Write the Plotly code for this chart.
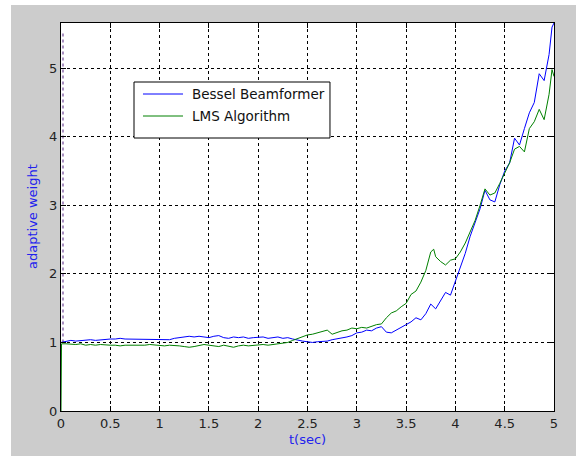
import plotly.graph_objects as go

# ---- data ----
t_bessel = [0.00, 0.05, 0.10, 0.15, 0.20, 0.25, 0.30, 0.35, 0.40, 0.45, 0.50, 0.55, 0.60, 0.65, 0.70,
            0.75, 0.80, 0.85, 0.90, 0.95, 1.00, 1.05, 1.10, 1.15, 1.20, 1.25, 1.30, 1.35, 1.40, 1.45,
            1.50, 1.55, 1.60, 1.65, 1.70, 1.75, 1.80, 1.85, 1.90, 1.95, 2.00, 2.05, 2.10, 2.15, 2.20,
            2.25, 2.30, 2.35, 2.40, 2.45, 2.50, 2.55, 2.60, 2.65, 2.70, 2.75, 2.80, 2.85, 2.90, 2.95,
            3.00, 3.05, 3.10, 3.15, 3.20, 3.25, 3.30, 3.35, 3.40, 3.45, 3.50, 3.55, 3.60, 3.65, 3.70,
            3.75, 3.80, 3.85, 3.90, 3.95, 4.00, 4.05, 4.10, 4.15, 4.20, 4.25, 4.30, 4.35, 4.40, 4.45,
            4.50, 4.55, 4.60, 4.65, 4.70, 4.75, 4.80, 4.85, 4.90, 4.95, 4.98, 5.00]
w_bessel = [1.00, 1.02, 1.03, 1.02, 1.03, 1.03, 1.04, 1.03, 1.04, 1.04, 1.05, 1.05, 1.06, 1.05, 1.05,
            1.04, 1.04, 1.05, 1.04, 1.04, 1.05, 1.05, 1.04, 1.06, 1.07, 1.08, 1.09, 1.08, 1.09, 1.08,
            1.07, 1.09, 1.10, 1.07, 1.06, 1.08, 1.07, 1.08, 1.06, 1.07, 1.07, 1.08, 1.06, 1.07, 1.08,
            1.06, 1.07, 1.05, 1.03, 1.02, 1.01, 1.00, 1.01, 1.01, 1.02, 1.04, 1.05, 1.06, 1.08, 1.10,
            1.14, 1.15, 1.18, 1.17, 1.21, 1.23, 1.15, 1.14, 1.18, 1.22, 1.27, 1.30, 1.36, 1.33, 1.42,
            1.56, 1.49, 1.62, 1.73, 1.69, 1.90, 2.10, 2.30, 2.55, 2.75, 2.95, 3.22, 3.08, 3.05, 3.30,
            3.50, 3.62, 3.98, 3.88, 4.12, 4.35, 4.50, 4.92, 4.82, 5.20, 5.60, 5.66]

t_lms = [0.00, 0.005, 0.05, 0.10, 0.15, 0.20, 0.25, 0.30, 0.35, 0.40, 0.45, 0.50, 0.55, 0.60, 0.65,
         0.70, 0.75, 0.80, 0.85, 0.90, 0.95, 1.00, 1.05, 1.10, 1.15, 1.20, 1.25, 1.30, 1.35, 1.40,
         1.45, 1.50, 1.55, 1.60, 1.65, 1.70, 1.75, 1.80, 1.85, 1.90, 1.95, 2.00, 2.05, 2.10, 2.15,
         2.20, 2.25, 2.30, 2.35, 2.40, 2.45, 2.50, 2.55, 2.60, 2.65, 2.70, 2.75, 2.80, 2.85, 2.90,
         2.95, 3.00, 3.05, 3.10, 3.15, 3.20, 3.25, 3.30, 3.35, 3.40, 3.45, 3.50, 3.55, 3.60, 3.65,
         3.70, 3.75, 3.78, 3.80, 3.85, 3.90, 3.95, 4.00, 4.05, 4.10, 4.15, 4.20, 4.25, 4.30, 4.35,
         4.40, 4.45, 4.50, 4.55, 4.60, 4.65, 4.70, 4.75, 4.80, 4.85, 4.90, 4.95, 4.98, 5.00]
w_lms = [0.00, 0.98, 0.98, 0.97, 0.97, 0.98, 0.96, 0.97, 0.96, 0.97, 0.96, 0.96, 0.96, 0.95, 0.96,
         0.96, 0.95, 0.96, 0.96, 0.97, 0.96, 0.96, 0.95, 0.96, 0.96, 0.95, 0.94, 0.93, 0.94, 0.96,
         0.97, 0.96, 0.95, 0.94, 0.96, 0.95, 0.93, 0.95, 0.96, 0.95, 0.96, 0.96, 0.97, 0.96, 0.97,
         0.97, 0.98, 1.00, 1.03, 1.06, 1.09, 1.11, 1.12, 1.14, 1.16, 1.18, 1.12, 1.15, 1.17, 1.18,
         1.21, 1.20, 1.22, 1.21, 1.24, 1.26, 1.27, 1.36, 1.43, 1.46, 1.52, 1.57, 1.70, 1.75, 1.88,
         2.05, 2.32, 2.36, 2.25, 2.18, 2.13, 2.20, 2.22, 2.32, 2.45, 2.62, 2.78, 3.00, 3.24, 3.15,
         3.18, 3.32, 3.48, 3.62, 3.82, 3.86, 3.78, 4.12, 4.22, 4.40, 4.25, 4.62, 4.98, 4.88]

# multicolour initial-transient strip near t = 0
t_strip = [0.02, 0.02]
w_strip = [1.0, 5.51]

x_ticks = [0, 0.5, 1, 1.5, 2, 2.5, 3, 3.5, 4, 4.5, 5]
x_ticklabels = ["0", "0.5", "1", "1.5", "2", "2.5", "3", "3.5", "4", "4.5", "5"]
y_ticks = [0, 1, 2, 3, 4, 5]
y_ticklabels = ["0", "1", "2", "3", "4", "5"]
x_range = [0, 5]
y_range = [0, 5.66]
x_title = "t(sec)"
y_title = "adaptive weight"
series_names = ["Bessel Beamformer", "LMS Algorithm"]
series_colors = ["#0000ff", "#008000"]

FONT = "DejaVu Sans, Verdana, sans-serif"

fig = go.Figure()
fig.add_trace(go.Scatter(x=t_strip, y=w_strip, mode="lines", showlegend=False,
                         line=dict(color="#a88fc0", width=2, dash="dot"), hoverinfo="skip"))
fig.add_trace(go.Scatter(x=t_bessel, y=w_bessel, mode="lines", name=series_names[0],
                         showlegend=False, line=dict(color=series_colors[0], width=1)))
fig.add_trace(go.Scatter(x=t_lms, y=w_lms, mode="lines", name=series_names[1],
                         showlegend=False, line=dict(color=series_colors[1], width=1)))

axis_common = dict(showline=True, linecolor="black", linewidth=1, mirror="ticks",
                   ticks="inside", ticklen=5, tickcolor="black", automargin=False,
                   showgrid=True, gridcolor="black", gridwidth=1, griddash="3px,3px",
                   zeroline=False, tickfont=dict(family=FONT, size=13, color="#222222"))

fig.update_xaxes(range=x_range, tickvals=x_ticks, ticktext=x_ticklabels, **axis_common)
fig.update_yaxes(range=y_range, tickvals=y_ticks, ticktext=y_ticklabels, **axis_common)

fig.add_annotation(text=y_title, xref="paper", yref="paper", x=-0.0588, y=0.5,
                   xanchor="center", yanchor="middle", textangle=-90, showarrow=False,
                   font=dict(family=FONT, size=13, color="#2222ee"))
fig.add_annotation(text=x_title, xref="paper", yref="paper", x=0.5, y=-0.0747,
                   xanchor="center", yanchor="middle", showarrow=False,
                   font=dict(family=FONT, size=13, color="#2222ee"))

# legend box drawn by hand (MATLAB style)
fig.add_shape(type="rect", xref="paper", yref="paper", x0=0.1481, x1=0.5456, y0=0.7036, y1=0.8479,
              fillcolor="white", line=dict(color="black", width=1), layer="above")
legend_rows_y = [0.8170, 0.7603]
for name, col, yy in zip(series_names, series_colors, legend_rows_y):
    fig.add_shape(type="line", xref="paper", yref="paper", x0=0.1663, x1=0.2475, y0=yy, y1=yy,
                  line=dict(color=col, width=1), layer="above")
    fig.add_annotation(text=name, xref="paper", yref="paper", x=0.2617, y=yy,
                       xanchor="left", yanchor="middle", showarrow=False,
                       font=dict(family=FONT, size=13.5, color="#111111"))

# white strips at top and left of the image (figure window edge)
fig.add_shape(type="rect", xref="paper", yref="paper", x0=-0.13, x1=1.06, y0=1.0464, y1=1.07,
              fillcolor="white", line=dict(width=0), layer="above")
fig.add_shape(type="rect", xref="paper", yref="paper", x0=-0.13, x1=-0.1014, y0=-0.13, y1=1.07,
              fillcolor="white", line=dict(width=0), layer="above")

fig.update_layout(
    width=576, height=456,
    margin=dict(l=61, r=22, t=23, b=45, autoexpand=False),
    paper_bgcolor="#cccccc", plot_bgcolor="white",
    font=dict(family=FONT, size=12, color="#222222"),
    showlegend=False,
)

fig.write_html("out.html", config={"displayModeBar": False},
               post_script="document.body.style.margin='0';document.body.style.overflow='hidden';")
